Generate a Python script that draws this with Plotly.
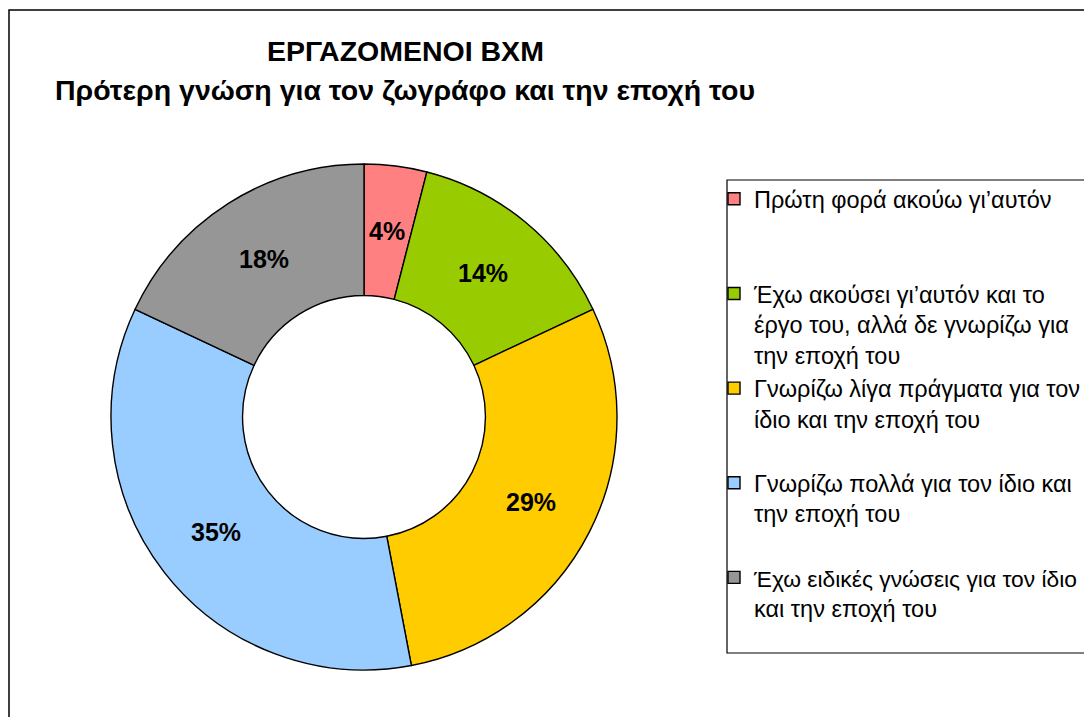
import numpy as np
import plotly.graph_objects as go

W, H = 1084, 717

categories = [
    "Πρώτη φορά ακούω γι’αυτόν",
    "Έχω ακούσει γι’αυτόν και το<br>έργο του, αλλά δε γνωρίζω για<br>την εποχή του",
    "Γνωρίζω λίγα πράγματα για τον<br>ίδιο και την εποχή του",
    "Γνωρίζω πολλά για τον ίδιο και<br>την εποχή του",
    "Έχω ειδικές γνώσεις για τον ίδιο<br>και την εποχή του",
]
values = [4, 14, 29, 35, 18]
colors = ["#FF8080", "#99CC00", "#FFCC00", "#99CCFF", "#969696"]
title_line1 = "ΕΡΓΑΖΟΜΕΝΟΙ ΒΧΜ"
title_line2 = "Πρότερη γνώση για τον ζωγράφο και την εποχή του"

FONT = "Liberation Sans, Arial, sans-serif"
HOLE = 0.48
LEGEND_SIZE = 23.5
LONG_LINE_SIZE = 22.8


def fit_lines(label, max_chars=31):
    # slightly condense very long legend lines so they fit the visible area
    parts = label.split("<br>")
    out = []
    for p in parts:
        if len(p) > max_chars:
            p = f'<span style="font-size:{LONG_LINE_SIZE}px">{p}</span>'
        out.append(p)
    return "<br>".join(out)


def pad(label, n=3):
    lines = label.count("<br>") + 1
    return label + "<br>\u00a0" * (n - lines)


legend_labels = [pad(fit_lines(c)) for c in categories]


def px(x):
    return x / W


def py(y):
    return 1 - y / H


# pie geometry in pixels (domain)
X0, X1, Y0, Y1 = 111, 617, 164, 670
cx, cy = (X0 + X1) / 2, (Y0 + Y1) / 2
R = min(X1 - X0, Y1 - Y0) / 2
r_mid = R * (1 + HOLE) / 2

fig = go.Figure()
fig.add_trace(go.Pie(
    labels=legend_labels,
    values=values,
    sort=False,
    direction="clockwise",
    rotation=0,
    hole=HOLE,
    marker=dict(colors=colors, line=dict(color="black", width=1.4)),
    textinfo="none",
    domain=dict(x=[px(X0), px(X1)], y=[py(Y1), py(Y0)]),
    hoverinfo="label+percent",
))

# percentage labels at the middle of the ring, derived from the values
vals = np.array(values, dtype=float)
frac = vals / vals.sum()
mid = np.cumsum(frac) - frac / 2
ang = 2 * np.pi * mid
annotations = []
for f, a in zip(frac, ang):
    lx = cx + r_mid * np.sin(a)
    ly = cy - r_mid * np.cos(a)
    annotations.append(dict(
        text=f"<b>{round(f * 100):.0f}%</b>", x=px(lx), y=py(ly),
        xref="paper", yref="paper", xanchor="center", yanchor="middle",
        showarrow=False, font=dict(family=FONT, size=25, color="black")))

annotations += [
    dict(text=f"<b>{title_line1}</b>", x=px(405), y=py(51), xref="paper", yref="paper",
         xanchor="center", yanchor="middle", showarrow=False,
         font=dict(family=FONT, size=28.5, color="black")),
    dict(text=f"<b>{title_line2}</b>", x=px(405), y=py(90), xref="paper", yref="paper",
         xanchor="center", yanchor="middle", showarrow=False,
         font=dict(family=FONT, size=28.5, color="black")),
]

fig.update_layout(
    width=W, height=H,
    margin=dict(l=0, r=0, t=0, b=0, autoexpand=False),
    paper_bgcolor="white",
    plot_bgcolor="white",
    showlegend=True,
    legend=dict(
        x=px(714), y=py(177), xanchor="left", yanchor="top",
        font=dict(family=FONT, size=LEGEND_SIZE, color="black"),
        valign="top",
        borderwidth=0,
        bgcolor="rgba(0,0,0,0)",
        traceorder="normal",
    ),
    annotations=annotations,
    shapes=[
        dict(type="rect", xref="paper", yref="paper",
             x0=px(9), x1=px(1100), y0=py(730), y1=py(10),
             line=dict(color="black", width=1.5), fillcolor="rgba(0,0,0,0)", layer="below"),
        dict(type="rect", xref="paper", yref="paper",
             x0=px(727), x1=px(1100), y0=py(653), y1=py(180),
             line=dict(color="black", width=1.2), fillcolor="rgba(0,0,0,0)", layer="below"),
    ],
)

fig.write_html("out.html", post_script="document.body.style.margin='0px';",
               config={"displayModeBar": False})
